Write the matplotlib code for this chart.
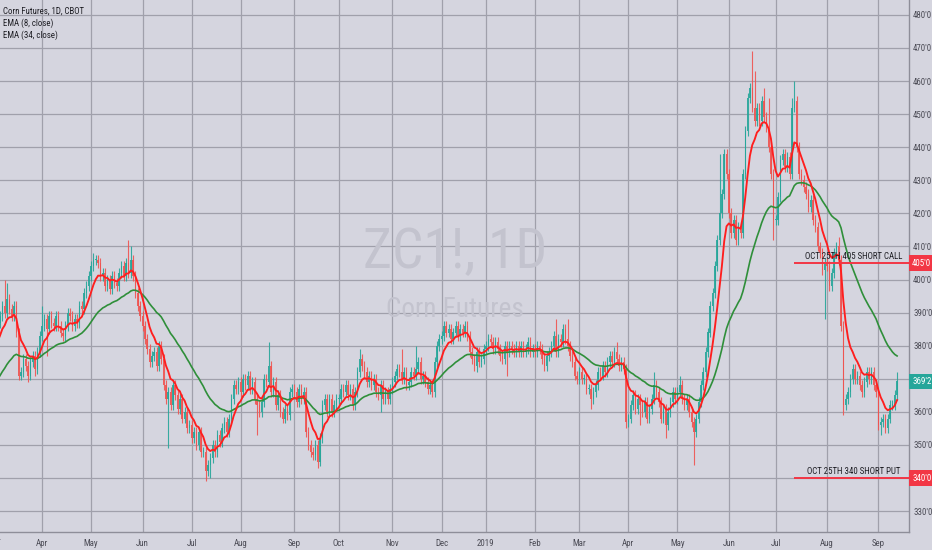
import numpy as np
import pandas as pd
import matplotlib
matplotlib.use("Agg")
import matplotlib.pyplot as plt
from matplotlib import font_manager as fm

# ---------------- data ----------------
holidays = ["2018-01-01", "2018-01-15", "2018-02-19", "2018-03-30", "2018-05-28",
            "2018-07-04", "2018-09-03", "2018-11-22", "2018-12-05", "2018-12-25",
            "2019-01-01", "2019-01-21", "2019-02-18", "2019-04-19", "2019-05-27",
            "2019-07-04", "2019-09-02"]

close_2018_01 = [353, 351, 352, 350, 351, 353, 355, 352, 350, 349, 351, 354, 352, 353, 356, 358, 355, 357, 359, 358, 361]
close_2018_02 = [363, 365, 362, 366, 368, 367, 369, 371, 368, 370, 372, 371, 374, 376, 375, 378, 380, 381, 382]
close_2018_03 = [382, 384, 387, 389, 392, 390, 394, 391, 389, 392, 384, 371, 372, 376, 374, 371, 375, 377, 373, 378, 383]
close_2018_04 = [386, 388, 385, 389, 387, 386, 389, 386, 384, 383, 386, 390, 389, 386, 388, 387, 392, 391, 396, 398, 401]
close_2018_05 = [404, 406, 406, 405, 401, 402, 398, 400, 397, 401, 399, 398, 402, 404, 401, 405, 402, 406, 401, 396, 392, 389]
close_2018_06 = [386, 382, 379, 375, 377, 378, 374, 380, 376, 368, 364, 366, 362, 368, 365, 361, 364, 358, 360, 355, 356]
close_2018_07 = [352, 354, 350, 354, 348, 348, 342, 344, 346, 350, 348, 353, 351, 355, 357, 354, 358, 364, 368, 367, 369]
close_2018_08 = [366, 370, 368, 371, 367, 369, 364, 362, 360, 363, 370, 369, 374, 366, 369, 362, 365, 360, 358, 361, 359, 366, 367]
close_2018_09 = [366, 363, 367, 364, 366, 354, 350, 348, 347, 350, 345, 352, 362, 364, 360, 364, 360, 362, 364]
close_2018_10 = [364, 367, 366, 368, 365, 367, 362, 366, 372, 376, 374, 372, 369, 371, 368, 370, 366, 365, 368, 364, 366, 364, 367]
close_2018_11 = [369, 371, 373, 372, 370, 372, 368, 369, 372, 371, 373, 375, 370, 371, 369, 367, 368, 366, 375, 380, 382]
close_2018_12 = [383, 386, 384, 385, 382, 384, 386, 383, 385, 384, 386, 383, 378, 376, 374, 378, 375, 376, 379]
close_2019_01 = [380, 382, 381, 379, 381, 379, 377, 376, 380, 378, 380, 379, 378, 380, 378, 380, 378, 379, 381, 378, 379]
close_2019_02 = [378, 380, 379, 376, 374, 377, 378, 380, 383, 378, 382, 381, 385, 382, 380, 377, 375, 371, 370]
close_2019_03 = [372, 370, 370, 367, 367, 364, 366, 368, 372, 371, 374, 372, 375, 377, 375, 378, 376, 374, 375, 373, 357]
close_2019_04 = [358, 362, 365, 361, 364, 362, 360, 363, 358, 361, 364, 368, 366, 363, 358, 361, 356, 360, 363, 366, 364]
close_2019_05 = [366, 368, 364, 362, 364, 360, 357, 354, 358, 363, 368, 372, 378, 384, 392, 396, 404, 412, 420, 426, 438, 432]
close_2019_06 = [420, 414, 418, 412, 416, 414, 432, 445, 455, 458, 452, 448, 452, 448, 454, 449, 446, 440, 432, 418]
close_2019_07 = [418, 425, 436, 438, 434, 437, 432, 452, 454, 440, 432, 430, 428, 426, 422, 424, 418, 416, 410, 408, 403, 405]
close_2019_08 = [404, 398, 402, 408, 410, 406, 386, 362, 364, 366, 370, 373, 370, 371, 368, 366, 369, 372, 370, 372, 368, 366]
close_2019_09 = [356, 357, 358, 355, 358, 362, 362, 365, 369.25]

# notable wick extremes (bar number counted from 1 Mar 2018)
spike_high = {5: 400, 6: 399, 21: 392, 43: 408, 44: 407, 58: 412, 59: 410, 118: 381,
              157: 379, 175: 379, 181: 380, 202: 387, 241: 388, 246: 388, 267: 381,
              283: 372, 294: 371, 311: 438, 325: 469, 326: 463, 330: 458, 332: 455,
              342: 455, 343: 460, 362: 413, 387: 372}
spike_low = {15: 369, 18: 371, 23: 377, 75: 349, 91: 339, 93: 340, 113: 353, 124: 357,
             139: 343, 166: 360, 207: 372, 220: 371, 256: 361, 271: 355, 277: 356,
             288: 352, 300: 344, 334: 412, 356: 388, 364: 359, 380: 353, 382: 354}

price_ticks = list(range(330, 490, 10))
covered_ticks = [340, 370]          # hidden under the price boxes on the scale
call_strike, put_strike = 405, 340
call_text = "OCT 25TH 405 SHORT CALL"
put_text = "OCT 25TH 340 SHORT PUT"
annot_start = "2019-07-12"
view_start = "2018-03-06"
title_lines = ["Corn Futures, 1D, CBOT", "EMA (8, close)", "EMA (34, close)"]

# ---------------- fonts ----------------
def find_narrow():
    prefs = ["liberation sans narrow", "roboto condensed", "open sans condensed",
             "noto sans condensed", "dejavu sans condensed", "arial narrow"]
    found = {}
    for f in fm.fontManager.ttflist:
        nm = f.name.lower()
        st = str(f.stretch).lower()
        fn = f.fname.lower()
        is_narrow = ("narrow" in nm or "condensed" in nm or "condensed" in fn or "narrow" in fn
                     or st in ("condensed", "semi-condensed", "extra-condensed"))
        if not is_narrow or f.style != "normal":
            continue
        if "bold" in fn or "light" in fn or "italic" in fn or "oblique" in fn or "medium" in fn \
                or "thin" in fn or "black" in fn or "semibold" in fn:
            continue
        key = nm + (" condensed" if "condensed" in fn and "condensed" not in nm else "")
        found.setdefault(key, f.fname)
    for p in prefs:
        for k, v in found.items():
            if k.startswith(p):
                return v
    return next(iter(found.values()), None)

narrow_file = find_narrow()
if narrow_file:
    def FP(size):
        return fm.FontProperties(fname=narrow_file, size=size)
    SMALL = 6.4
    WM = 40
else:
    def FP(size):
        return fm.FontProperties(family="Liberation Sans", size=size)
    SMALL = 5.6
    WM = 31

# ---------------- build series ----------------
closes = np.array(close_2018_01 + close_2018_02 + close_2018_03 + close_2018_04 + close_2018_05 +
                  close_2018_06 + close_2018_07 + close_2018_08 + close_2018_09 + close_2018_10 +
                  close_2018_11 + close_2018_12 + close_2019_01 + close_2019_02 + close_2019_03 +
                  close_2019_04 + close_2019_05 + close_2019_06 + close_2019_07 + close_2019_08 +
                  close_2019_09, dtype=float)
dates = pd.bdate_range("2018-01-02", "2019-09-13", freq="C", holidays=holidays)
n = min(len(dates), len(closes))
dates = dates[:n]
closes = closes[:n]
idx = np.arange(n)
mar1 = int(np.searchsorted(dates, pd.Timestamp("2018-03-01")))

opens = np.r_[closes[0], closes[:-1]]
wick = 1.5
highs = np.maximum(opens, closes) + wick
lows = np.minimum(opens, closes) - wick
for b, v in spike_high.items():
    if mar1 + b < n:
        highs[mar1 + b] = max(highs[mar1 + b], v)
for b, v in spike_low.items():
    if mar1 + b < n:
        lows[mar1 + b] = min(lows[mar1 + b], v)

s = pd.Series(closes)
ema8 = s.ewm(span=8, adjust=False).mean().values
ema34 = s.ewm(span=34, adjust=False).mean().values

# ---------------- figure ----------------
BG = "#d5d5df"
GRID = "#a0a0ab"
TXT = "#4b4b55"
UP = "#26a69a"
DN = "#ef5350"

fig = plt.figure(figsize=(9.32, 5.5), dpi=100, facecolor=BG)
ax = fig.add_axes([0, 18 / 550, 909 / 932, 532 / 550], facecolor=BG)

up = closes >= opens
col = np.where(up, UP, DN)
ax.vlines(idx, lows, highs, colors=col, lw=0.8, zorder=3, alpha=0.9)
body_h = np.maximum(np.abs(closes - opens), 0.35)
ax.bar(idx, body_h, bottom=np.minimum(opens, closes), width=0.62, color=col,
       edgecolor="none", zorder=3, alpha=0.9)

ax.plot(idx, ema34, color="#2f8f3a", lw=1.2, zorder=4)
ax.plot(idx, ema8, color="#ff1e1e", lw=1.35, zorder=5)

# month ticks
month_starts = []
labels = []
for m in pd.period_range("2018-04", "2019-09", freq="M"):
    pos = int(np.searchsorted(dates, m.start_time))
    month_starts.append(pos)
    labels.append(str(m.year) if m.month == 1 else m.start_time.strftime("%b"))

ax.set_xticks(month_starts)
ax.set_xticklabels(labels, color=TXT, fontproperties=FP(SMALL))
ax.yaxis.tick_right()
ax.set_yticks(price_ticks)
ax.set_yticklabels(["" if v in covered_ticks else f"{v}'0" for v in price_ticks],
                   color=TXT, fontproperties=FP(SMALL))
ax.tick_params(axis="x", length=0, pad=5)
ax.tick_params(axis="y", length=0, pad=3)
ax.grid(True, color=GRID, lw=0.9, zorder=0)
ax.set_axisbelow(True)

start = int(np.searchsorted(dates, pd.Timestamp(view_start)))
xr = n - 1 + 5.1
ax.set_xlim(start, xr)
ax.set_ylim(323.7, 484.5)

for side in ["top", "left"]:
    ax.spines[side].set_visible(False)
for side in ["right", "bottom"]:
    ax.spines[side].set_color("#8e8e99")
    ax.spines[side].set_linewidth(1.0)

# partial "Mar" label at the far left (cut by the chart edge, as in the original)
fig.text(-6 / 932, 1 - 542 / 550, "Mar", color=TXT, ha="center", va="center",
         fontproperties=FP(SMALL))

# watermark
ax.text(0.5005, 0.497, "ZC1!, 1D", transform=ax.transAxes, color="#c3c3ce",
        ha="center", va="baseline", fontproperties=FP(WM), zorder=1)
ax.text(0.5005, 0.405, "Corn Futures", transform=ax.transAxes, color="#c3c3ce",
        ha="center", va="baseline", fontproperties=FP(WM * 0.49), zorder=1)

# legend text
for i, t in enumerate(title_lines):
    ax.text(3 / 909, 1 - (11 + 12.3 * i) / 532, t, transform=ax.transAxes,
            color="#1e1e24", ha="left", va="center", fontproperties=FP(SMALL), zorder=6)

# option strike lines
a0 = int(np.searchsorted(dates, pd.Timestamp(annot_start)))
for strike, txt in [(call_strike, call_text), (put_strike, put_text)]:
    ax.plot([a0, xr], [strike, strike], color="#f23645", lw=1.4, zorder=6, solid_capstyle="butt")
    ax.annotate(txt, xy=((a0 + xr) / 2 + 1.0, strike), xytext=(0, 1.5), textcoords="offset points",
                ha="center", va="bottom", color="#1e1e24", fontproperties=FP(SMALL), zorder=7)

# price labels on the scale
ytr = ax.get_yaxis_transform()
for v, txt, c in [(call_strike, "405'0", "#f23645"), (put_strike, "340'0", "#f23645"),
                  (closes[-1], "369'2", UP)]:
    ax.text(1.0035, v, txt, transform=ytr, ha="left", va="center", color="white",
            fontproperties=FP(SMALL), zorder=10, clip_on=False,
            bbox=dict(boxstyle="square,pad=0.35", fc=c, ec="none"))

fig.savefig("out.png", dpi=100, facecolor=BG)
